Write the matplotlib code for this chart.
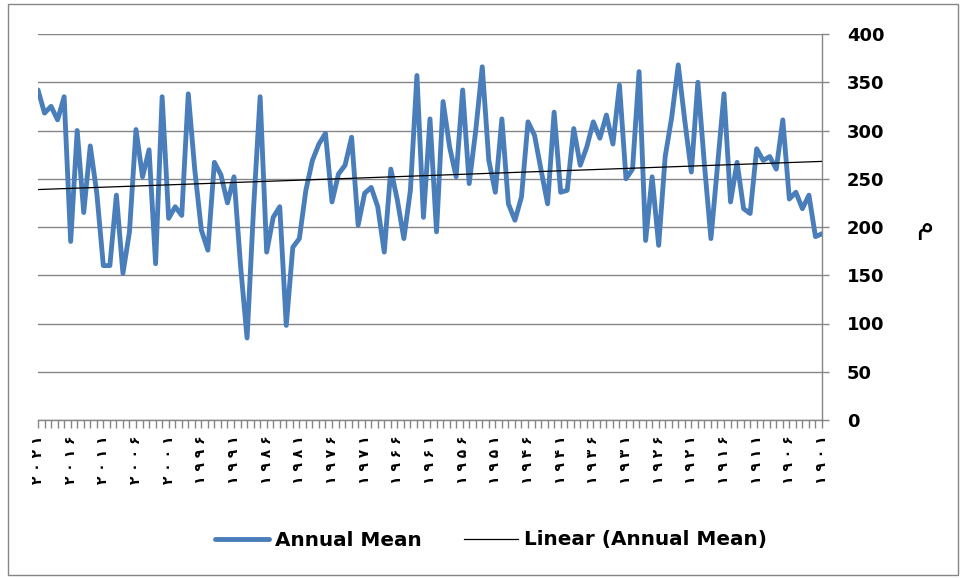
import numpy as np
import matplotlib.pyplot as plt

# سال‌ها به ترتیب نمایش (چپ به راست، محور معکوس)
years = list(range(2021, 1900, -1))

# میانگین سالانه (خوانده شده از نمودار، از 2021 تا 1901)
annual_mean = [342, 318, 325, 311, 335, 185, 300, 215, 284, 235,
               160, 160, 233, 152, 195, 301, 252, 280, 162, 335,
               209, 221, 212, 338, 259, 197, 176, 267, 254, 225,
               252, 160, 85, 220, 335, 174, 210, 221, 98, 179,
               188, 238, 269, 286, 297, 226, 255, 264, 293, 202,
               235, 241, 221, 174, 260, 228, 188, 238, 357, 210,
               312, 195, 330, 283, 252, 342, 245, 300, 366, 269,
               236, 312, 224, 207, 231, 309, 295, 259, 224, 319,
               236, 238, 302, 264, 283, 309, 292, 316, 286, 347,
               250, 260, 361, 186, 252, 181, 273, 314, 368, 310,
               257, 350, 265, 188, 263, 338, 226, 267, 219, 214,
               281, 269, 273, 260, 311, 229, 236, 219, 233, 190,
               193]

y_ticks = [0, 50, 100, 150, 200, 250, 300, 350, 400]
label_step = 5

blue = '#4a7ebb'
gray = '#868686'

fa_digits = str.maketrans('0123456789', '۰۱۲۳۴۵۶۷۸۹')


def fa_label(year):
    # ارقام فارسی با فاصله، مثل برچسب‌های عمودی اکسل
    return ' '.join(str(year).translate(fa_digits))


fig = plt.figure(figsize=(9.63, 5.79), dpi=100)
ax = fig.add_axes([38 / 963, 1 - 420 / 579, (822 - 38) / 963, (420 - 34) / 579])

x = np.arange(len(years))
ax.plot(x, annual_mean, color=blue, lw=3.5, solid_joinstyle='round',
        solid_capstyle='round', label='Annual Mean', zorder=3)

# خط روند خطی
k, b = np.polyfit(x, annual_mean, 1)
ax.plot(x, k * x + b, color='black', lw=0.9, label='Linear (Annual Mean)', zorder=4)

ax.set_xlim(0, len(years) - 1)
ax.set_ylim(0, 400)
ax.set_yticks(y_ticks)
ax.yaxis.tick_right()
ax.grid(axis='y', color=gray, lw=1)
ax.set_axisbelow(True)

for side in ['left', 'top']:
    ax.spines[side].set_visible(False)
for side in ['right', 'bottom']:
    ax.spines[side].set_color(gray)
    ax.spines[side].set_linewidth(1)

ax.set_xticks(x[::label_step])
ax.set_xticklabels([fa_label(y) for y in years[::label_step]],
                   rotation=90, fontsize=10, fontweight='bold',
                   family=['DejaVu Sans'])
ax.set_xticks(x, minor=True)
ax.tick_params(axis='x', which='both', direction='out', length=6, width=1,
               color=gray, pad=5)
ax.tick_params(axis='y', direction='out', length=5, width=1, color=gray,
               labelsize=13, pad=13)
for t in ax.get_yticklabels():
    t.set_fontweight('bold')

# عنوان محور
fig.text(925 / 963, 1 - 226 / 579, 'م', fontsize=20,
         family=['DejaVu Sans'], ha='center', va='center')

leg = fig.legend(loc='center', bbox_to_anchor=(0.51, 1 - 540 / 579), ncol=2,
                 frameon=False, handlelength=2.7, handletextpad=0.3,
                 columnspacing=2.1, prop={'size': 14.4, 'weight': 'bold'})

# کادر دور نمودار
fig.add_artist(plt.Rectangle((8 / 963, 4 / 579), 950 / 963, 571 / 579,
                             transform=fig.transFigure, fill=False,
                             edgecolor=gray, lw=1))

fig.savefig('out.png', dpi=100)
